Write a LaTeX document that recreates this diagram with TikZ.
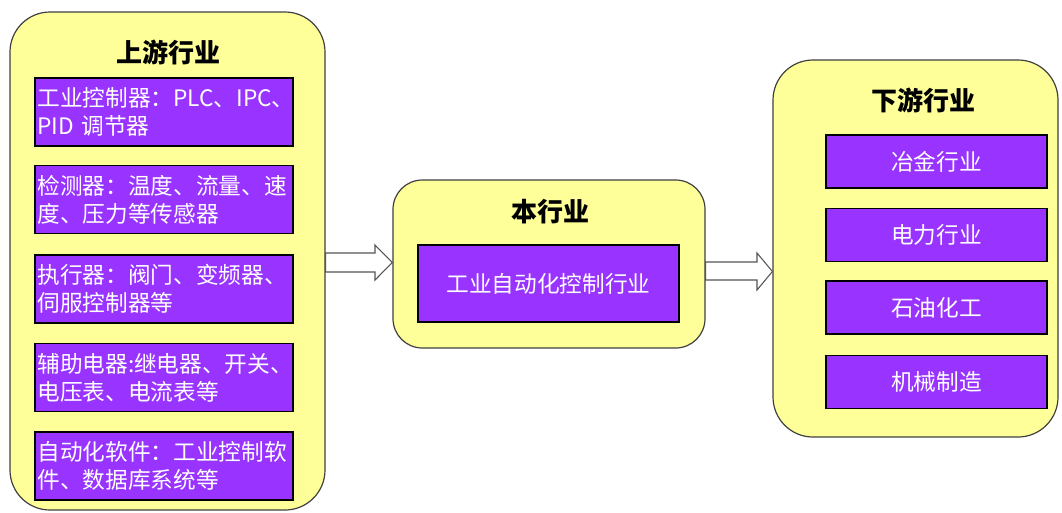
\documentclass[tikz,border=0pt]{standalone}
\usepackage{fontspec}
\setmainfont{Noto Sans CJK SC}
\usetikzlibrary{calc}
\definecolor{panelfill}{HTML}{FFFF99}
\definecolor{itemfill}{HTML}{9933FF}
\definecolor{panelline}{HTML}{404040}
\definecolor{arrowline}{HTML}{555555}

\begin{document}
\begin{tikzpicture}[x=0.75pt,y=-0.75pt,
  panel/.style={draw=panelline, line width=0.9pt, fill=panelfill},
  heading/.style={font=\fontsize{19.5}{23}\selectfont\bfseries, text=black, inner sep=0pt},
  item/.style={draw=black, line width=0.9pt, fill=itemfill, text=white,
    font=\fontsize{17}{21}\selectfont, inner sep=1pt},
  upitem/.style={item, minimum width=193.5pt, minimum height=51pt,
    text width=190pt, align=left},
  downitem/.style={item, minimum width=165.75pt, minimum height=39.75pt, align=center},
  hollow/.style={draw=arrowline, line width=0.8pt, fill=white, line join=miter}
]
\useasboundingbox (0,0) rectangle (1062,512);

% three stages of the chain
\node[panel, rounded corners=30pt, minimum width=236.25pt, minimum height=373.5pt] (up) at (167.5,261) {};
\node[panel, rounded corners=22pt, minimum width=234pt, minimum height=126pt] (mid) at (549,264) {};
\node[panel, rounded corners=30pt, minimum width=213.75pt, minimum height=282.75pt] (down) at (915.5,248.5) {};

% headings
\node[heading] (uptitle) at (168,52) {上游行业};
\node[heading] (midtitle) at (550,212) {本行业};
\node[heading] (downtitle) at (923,100) {下游行业};

% upstream items
\node[upitem] (u1) at (164,112) {工业控制器：PLC、IPC、\\PID 调节器};
\node[upitem] (u2) at (164,199.5) {检测器：温度、流量、速\\度、压力等传感器};
\node[upitem] (u3) at (164,289) {执行器：阀门、变频器、\\伺服控制器等};
\node[upitem] (u4) at (164,377.5) {辅助电器:继电器、开关、\\电压表、电流表等};
\node[upitem] (u5) at (164,466) {自动化软件：工业控制软\\件、数据库系统等};

% this industry
\node[item, minimum width=195.75pt, minimum height=57.75pt] (m1) at (548.5,283.5) {工业自动化控制行业};

% downstream items
\node[downitem] (d1) at (936.5,161.5) {冶金行业};
\node[downitem] (d2) at (936.5,235) {电力行业};
\node[downitem] (d3) at (936.5,307.5) {石油化工};
\node[downitem] (d4) at (936.5,382) {机械制造};

% hollow block arrows between the stages
\draw[hollow] (up.east |- 0,253) -- (375,253) -- (375,245) -- (mid.west |- 0,262.5)
  -- (375,280) -- (375,272) -- (up.east |- 0,272) -- cycle;
\draw[hollow] (mid.east |- 0,262) -- (757,262) -- (757,253) -- (down.west |- 0,271.5)
  -- (757,290) -- (757,280) -- (mid.east |- 0,280) -- cycle;
\end{tikzpicture}
\end{document}
